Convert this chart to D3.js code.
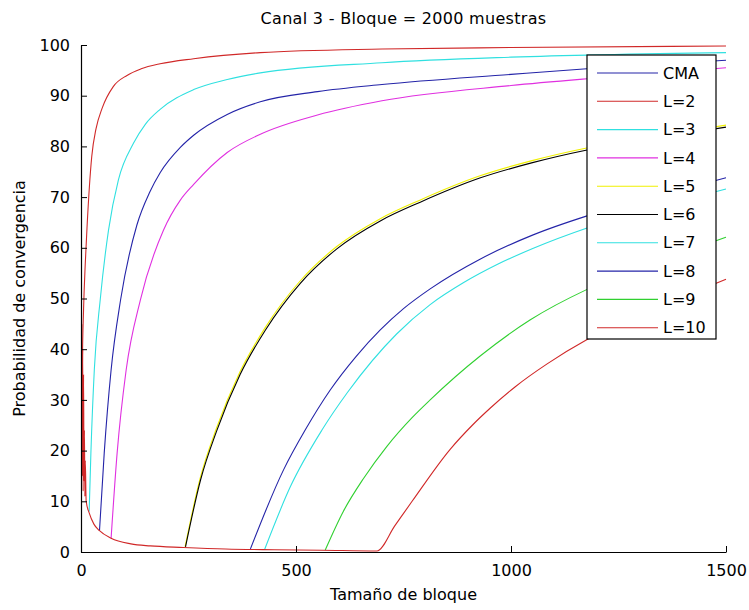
<!DOCTYPE html>
<html>
<head>
<meta charset="utf-8">
<script src="https://cdn.jsdelivr.net/npm/d3@7"></script>
<style>
  body { margin: 0; background: #fff; }
  svg { font-family: "DejaVu Sans", Arial, sans-serif; }
</style>
</head>
<body>
<script>
const MARGIN = { top: 45, right: 23, bottom: 58, left: 81 };
const WIDTH = 749 - MARGIN.left - MARGIN.right;
const HEIGHT = 610 - MARGIN.top - MARGIN.bottom;

// [tamaño de bloque, probabilidad %]
const cma = [[43, 4.2], [54, 19.5], [70, 35.9], [92, 49.7], [130, 64.5], [160, 71], [184, 74.8], [231, 79.8], [262, 82.2], [340, 86.3], [417, 88.8], [550, 90.8], [700, 92.2], [1000, 94.2], [1208, 95.5], [1500, 97]];
const l2 = [[2, 20], [3, 36], [6, 48], [10, 57], [14, 64], [25, 78], [35, 83.5], [49, 87.5], [75, 91.8], [107, 94], [140, 95.3], [184, 96.3], [262, 97.3], [417, 98.5], [700, 99.2], [1000, 99.5], [1500, 99.8]];
const l3 = [[19, 8], [23, 19.5], [31, 36], [45, 50], [64, 63.5], [87, 73.4], [122, 80.6], [150, 84.4], [184, 87.3], [262, 91.2], [340, 93.2], [417, 94.5], [700, 96.5], [1000, 97.6], [1500, 98.5]];
const l4 = [[70, 2.7], [84, 19.5], [105, 35.9], [138, 49.7], [192, 63.5], [231, 69.4], [262, 72.5], [340, 78.8], [417, 82.4], [550, 86.2], [700, 89], [1000, 92], [1200, 93.5], [1500, 95.5]];
const l5 = [[242, 1], [277, 14.5], [315, 24.4], [369, 35.4], [428, 44.2], [509, 53.4], [594, 60.2], [695, 65.7], [788, 69.4], [928, 74.2], [1049, 77.2], [1176, 79.7], [1350, 82.2], [1500, 84.2]];
const l6 = [[243, 1], [278, 14.2], [316, 24], [370, 35], [429, 43.8], [510, 53], [595, 59.8], [696, 65.3], [789, 69], [929, 73.8], [1050, 76.8], [1177, 79.3], [1350, 81.8], [1500, 83.8]];
const l7 = [[427, 0.5], [487, 12.9], [560, 24], [620, 31.5], [734, 43], [812, 48.8], [889, 53.1], [970, 56.8], [1052, 59.9], [1177, 63.9], [1350, 68.2], [1500, 71.6]];
const l8 = [[394, 0.6], [471, 16.2], [521, 24], [580, 32], [640, 38.6], [696, 43.8], [750, 48], [812, 51.9], [929, 57.8], [1050, 62.5], [1177, 66.3], [1350, 70.4], [1500, 73.8]];
const l9 = [[568, 0.4], [610, 8], [657, 14.5], [711, 20.8], [770, 26.5], [812, 30], [929, 38.7], [1045, 45.8], [1177, 51.8], [1350, 57.5], [1500, 62.1]];
const l10 = [[0.5, 72], [1, 30], [2, 45], [3, 15], [4, 40], [5, 12], [6, 35], [7, 14], [8, 24], [9, 11], [10, 18], [12, 10], [19, 7.7], [30, 5.5], [43, 4.2], [70, 2.7], [116, 1.6], [161, 1.2], [238, 0.9], [336, 0.6], [450, 0.45], [560, 0.35], [688, 0.2], [730, 5.2], [770, 10], [859, 20.3], [910, 25], [952, 28.4], [1010, 32.6], [1084, 37.1], [1177, 41.9], [1350, 48.5], [1500, 53.8]];

const seriesNames = ["CMA", "L=2", "L=3", "L=4", "L=5", "L=6", "L=7", "L=8", "L=9", "L=10"];
const seriesData = [cma, l2, l3, l4, l5, l6, l7, l8, l9, l10];
const COLORS = ["#2424a8", "#d02828", "#30e0e0", "#e030e0", "#f0f000", "#000000", "#30e0e0", "#2424a8", "#30d030", "#d02828"];

const xTicks = [0, 500, 1000, 1500];
const yTicks = [0, 10, 20, 30, 40, 50, 60, 70, 80, 90, 100];

const FONT = "16px";

const svg = d3
  .select("body")
  .append("svg")
  .attr("width", 749)
  .attr("height", 610);

svg
  .append("clipPath")
  .attr("id", "plot-clip")
  .append("rect")
  .attr("width", WIDTH + 1)
  .attr("height", HEIGHT + 1);

const g = svg
  .append("g")
  .attr("transform", "translate(" + MARGIN.left + "," + MARGIN.top + ")");

const xScale = d3.scaleLinear().domain([0, 1500]).range([0, WIDTH]);
const yScale = d3.scaleLinear().domain([0, 100]).range([HEIGHT, 0]);

const line = d3
  .line()
  .x(d => xScale(d[0]))
  .y(d => yScale(d[1]))
  .curve(d3.curveMonotoneX);

g.append("g")
  .attr("clip-path", "url(#plot-clip)")
  .selectAll(".serie")
  .data(seriesData)
  .enter()
  .append("path")
  .attr("class", "serie")
  .attr("d", d => line(d))
  .attr("fill", "none")
  .attr("stroke", (_, i) => COLORS[i])
  .attr("stroke-width", 1.1);

// ejes estilo matlab: ticks hacia dentro, sin caja
const xAxis = g
  .append("g")
  .attr("transform", "translate(0," + HEIGHT + ")")
  .call(d3.axisBottom(xScale).tickValues(xTicks).tickFormat(d3.format("d")).tickSizeInner(-6).tickSizeOuter(0).tickPadding(13));
const yAxis = g
  .append("g")
  .call(d3.axisLeft(yScale).tickValues(yTicks).tickSizeInner(-6).tickSizeOuter(0).tickPadding(11));

[xAxis, yAxis].forEach(a => {
  a.select(".domain").attr("stroke", "#000").attr("stroke-width", 1.2);
  a.selectAll(".tick line").attr("stroke", "#000");
  a.selectAll(".tick text")
    .attr("fill", "#000")
    .style("font-size", FONT)
    .style("font-family", "'DejaVu Sans', Arial, sans-serif");
});

svg
  .append("text")
  .attr("x", MARGIN.left + WIDTH / 2)
  .attr("y", 24)
  .attr("text-anchor", "middle")
  .style("font-size", FONT)
  .style("letter-spacing", "0.3px")
  .text("Canal 3 - Bloque = 2000 muestras");

svg
  .append("text")
  .attr("x", MARGIN.left + WIDTH / 2)
  .attr("y", 600)
  .attr("text-anchor", "middle")
  .style("font-size", FONT)
  .text("Tamaño de bloque");

svg
  .append("text")
  .attr("transform", "translate(25," + (MARGIN.top + HEIGHT / 2) + ") rotate(-90)")
  .attr("text-anchor", "middle")
  .style("font-size", FONT)
  .text("Probabilidad de convergencia");

// leyenda
const legend = svg.append("g").attr("transform", "translate(587,55)");
legend
  .append("rect")
  .attr("width", 129)
  .attr("height", 284)
  .attr("fill", "#fff")
  .attr("stroke", "#000")
  .attr("stroke-width", 1.2);

const items = legend
  .selectAll(".item")
  .data(seriesNames)
  .enter()
  .append("g")
  .attr("transform", (_, i) => "translate(0," + (18 + i * 28.3) + ")");
items
  .append("line")
  .attr("x1", 10)
  .attr("x2", 71)
  .attr("stroke", (_, i) => COLORS[i])
  .attr("stroke-width", 1.1);
items
  .append("text")
  .attr("x", 76)
  .attr("dy", "0.35em")
  .style("font-size", FONT)
  .text(d => d);
</script>
</body>
</html>
